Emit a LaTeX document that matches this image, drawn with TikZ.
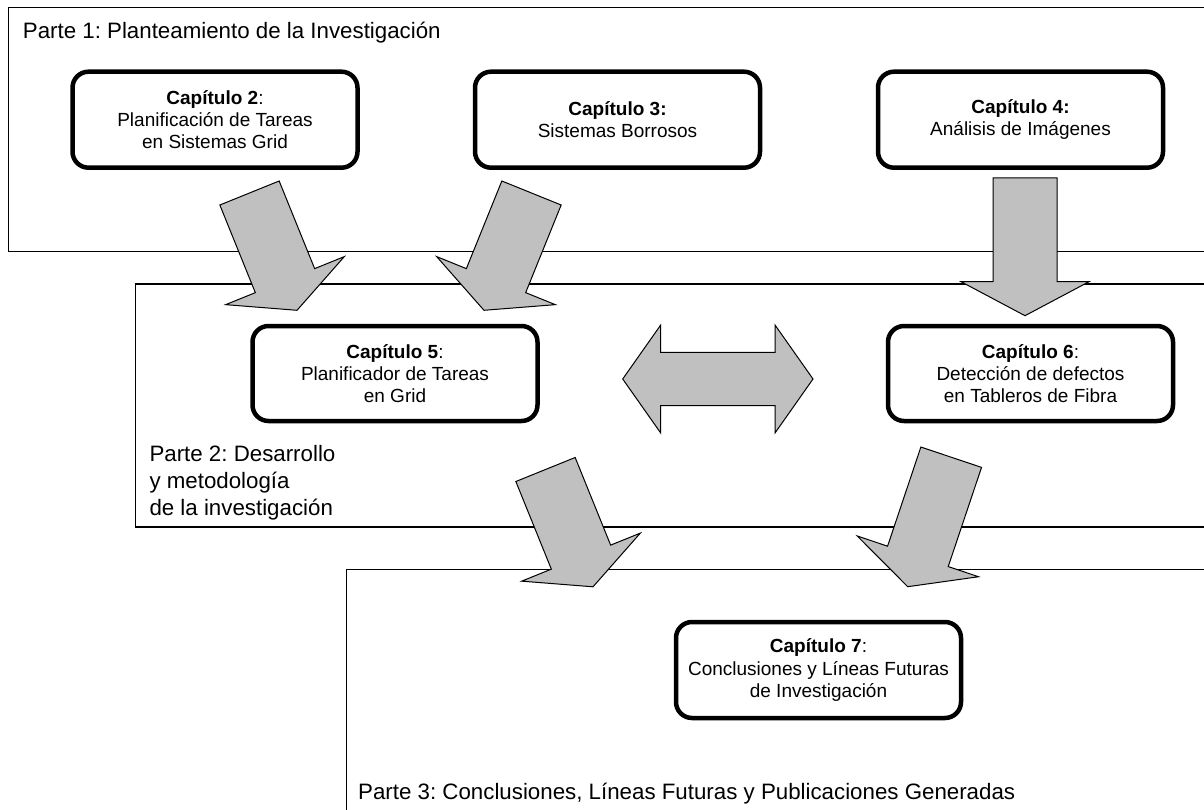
\documentclass[tikz,border=0pt]{standalone}
\usepackage{fontspec}
\setmainfont{Liberation Sans}
\usetikzlibrary{calc}
\frenchspacing

\definecolor{arrowgray}{HTML}{C0C0C0}
\newcommand\chapfont{\fontsize{19}{22.2}\selectfont}
\newcommand\partfont{\fontsize{22.3}{27}\selectfont}

\tikzset{
  part frame/.style={draw=black, line width=1.3pt},
  chapter/.style={draw=black, line width=4.5pt, rounded corners=16pt,
    minimum width=285pt, minimum height=95pt, align=center, inner sep=0pt,
    font=\chapfont},
  part label/.style={inner sep=0pt, align=left, font=\partfont},
  block/.style={fill=arrowgray, draw=black, line width=1pt, line join=miter},
}

% block arrow: #1 head length, #2 tail centre, #3 tip
\newcommand\blockarrow[3][32]{%
  \coordinate (hb) at ($(#3)!#1pt!(#2)$);
  \draw[block] ($(#2)!32pt!90:(#3)$) -- ($(#2)!32pt!-90:(#3)$)
    -- ($(hb)!32pt!-90:(#3)$) -- ($(hb)!64pt!-90:(#3)$) -- (#3)
    -- ($(hb)!64pt!90:(#3)$) -- ($(hb)!32pt!90:(#3)$) -- cycle;
}
% double-headed block arrow between two tips
\newcommand\twowayarrow[2]{%
  \coordinate (ha) at ($(#1)!38pt!(#2)$);
  \coordinate (hz) at ($(#2)!38pt!(#1)$);
  \draw[block] (#1) -- ($(ha)!54pt!90:(#2)$) -- ($(ha)!26.7pt!90:(#2)$)
    -- ($(hz)!26.7pt!-90:(#1)$) -- ($(hz)!54pt!-90:(#1)$) -- (#2)
    -- ($(hz)!54pt!90:(#1)$) -- ($(hz)!26.7pt!90:(#1)$)
    -- ($(ha)!26.7pt!-90:(#2)$) -- ($(ha)!54pt!-90:(#2)$) -- cycle;
}

\begin{document}
\begin{tikzpicture}[x=1pt, y=-1pt]
\useasboundingbox (0,0) rectangle (1204,810);
\clip (0,0) rectangle (1204,810);

% the three parts
\draw[part frame] (8.4,7.8) rectangle (1240,251.7);
\draw[part frame] (135.7,284) rectangle (1240,527);
\draw[part frame] (346.6,569.5) rectangle (1240,850);

\node[part label, anchor=base west] (p1) at (22.7,38.5)
  {Parte 1: Planteamiento de la Investigación};
\node[part label, anchor=north west] (p2) at (149.3,445.5)
  {Parte 2: Desarrollo\\y metodología\\de la investigación};
\node[part label, anchor=base west] (p3) at (358,799)
  {Parte 3: Conclusiones, Líneas Futuras y Publicaciones Generadas};

% chapters
\node[chapter, minimum height=96pt] (c2) at (215,119.7)
  {\textbf{Capítulo 2}:\\Planificación de Tareas\\en Sistemas Grid};
\node[chapter, minimum height=96pt] (c3) at (617.5,119.7)
  {\textbf{Capítulo 3:}\\Sistemas Borrosos};
\node[chapter, minimum height=96pt] (c4) at (1020.5,119.7)
  {\textbf{Capítulo 4:}\\Análisis de Imágenes};
\node[chapter] (c5) at (395,373.5)
  {\textbf{Capítulo 5}:\\Planificador de Tareas\\en Grid};
\node[chapter] (c6) at (1030.5,373.5)
  {\textbf{Capítulo 6}:\\Detección de defectos\\en Tableros de Fibra};
\node[chapter, minimum height=96pt] (c7) at (818.5,670)
  {\textbf{Capítulo 7}:\\Conclusiones y Líneas Futuras\\de Investigación};

% arrow ends
\coordinate (a2) at (249.5,193);   \coordinate (a2t) at (297,310.3);
\coordinate (a3) at (531.5,193);   \coordinate (a3t) at (484,310.3);
\coordinate (a4) at (1025,178);    \coordinate (a4t) at (1025,315.7);
\coordinate (a5) at (545.5,469.5); \coordinate (a5t) at (593,586.8);
\coordinate (a6) at (951.2,457.2); \coordinate (a6t) at (907.7,586.7);
\coordinate (dl) at (622.7,379);   \coordinate (dr) at (813,379);

\blockarrow{a2}{a2t}
\blockarrow{a3}{a3t}
\blockarrow[34]{a4}{a4t}
\blockarrow{a5}{a5t}
\blockarrow{a6}{a6t}
\twowayarrow{dl}{dr}
\end{tikzpicture}
\end{document}
